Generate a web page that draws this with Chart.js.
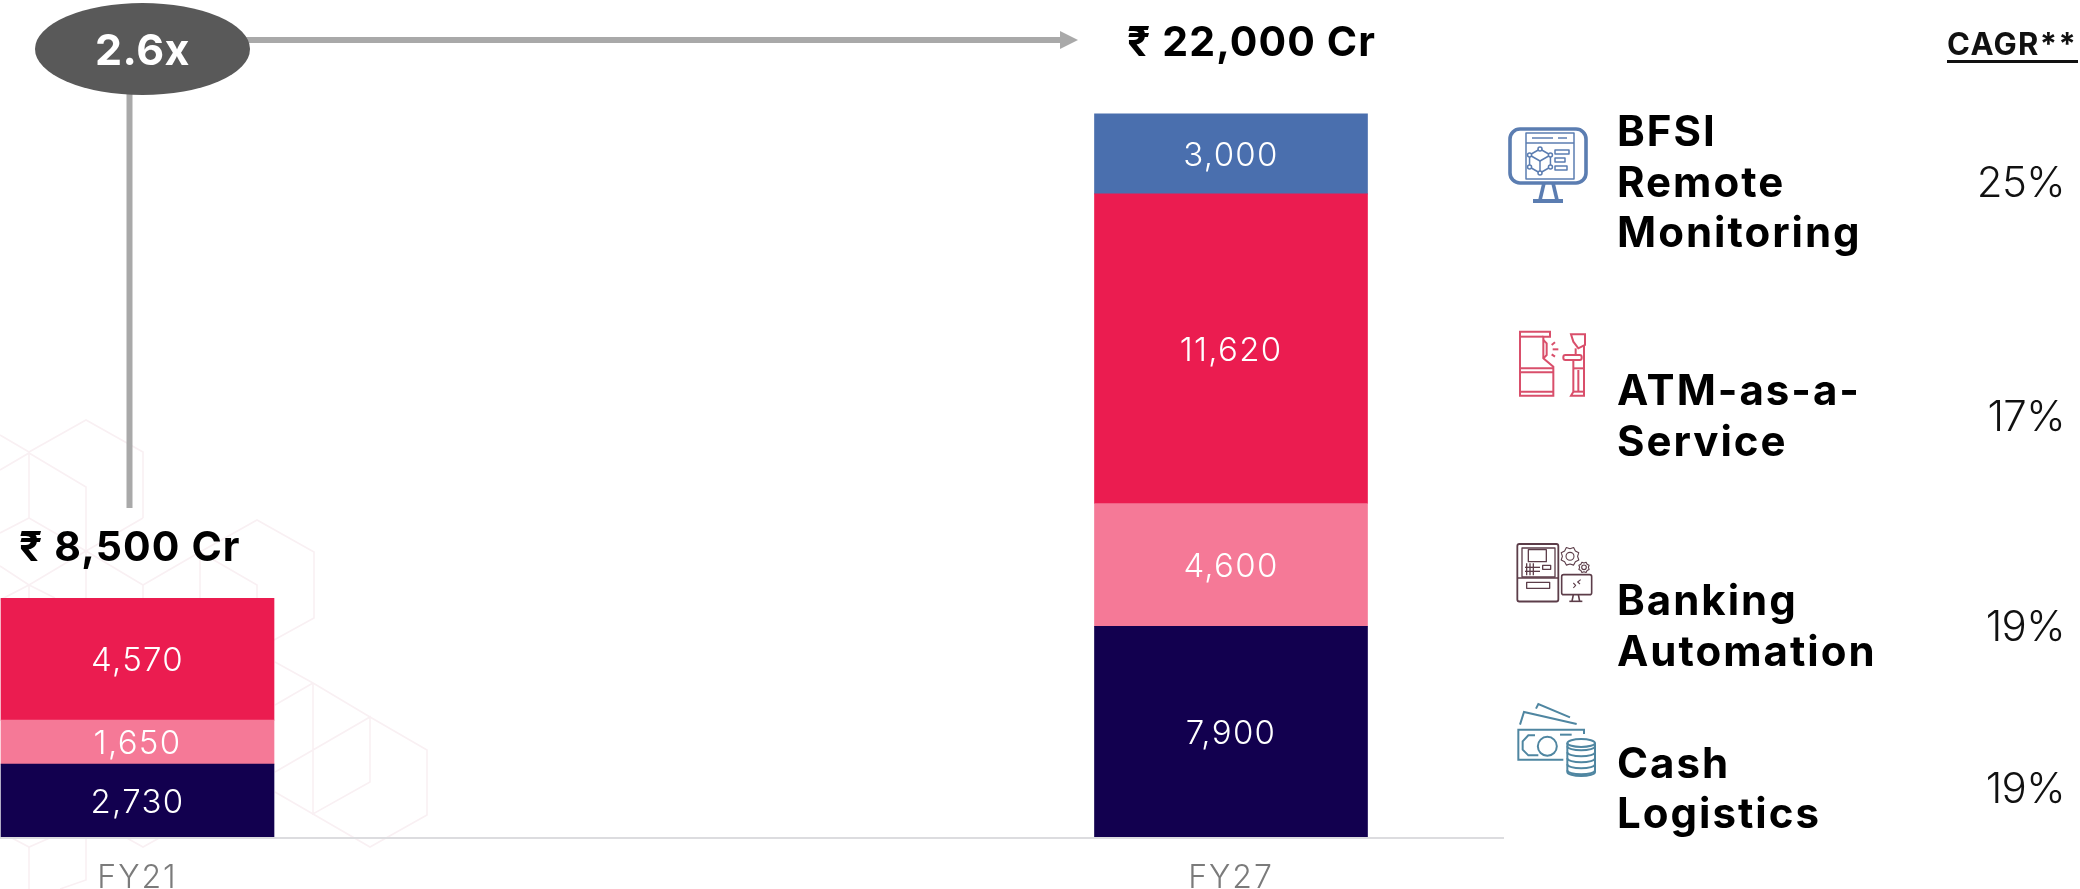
<!DOCTYPE html>
<html><head><meta charset="utf-8">
<style>html,body{margin:0;padding:0;background:#fff;overflow:hidden}canvas{display:block}</style>
<script src="https://cdn.jsdelivr.net/npm/chart.js@4/dist/chart.umd.min.js"></script>
</head><body><canvas id="c" width="2080" height="889"></canvas>
<script>
const categories = ['FY21', 'FY27'];
const cashLogistics = [2730, 7900];
const bankingAutomation = [1650, 4600];
const atmAsAService = [4570, 11620];
const bfsiRemoteMonitoring = [null, 3000];
const totalLabels = ['₹ 8,500 Cr', '₹ 22,000 Cr'];
const growthLabel = '2.6x';
const cagrTitle = 'CAGR**';
const cagrValues = ['25%', '17%', '19%', '19%'];
const segmentNames = [['BFSI', 'Remote', 'Monitoring'], ['ATM-as-a-', 'Service'], ['Banking', 'Automation'], ['Cash', 'Logistics']];

const FONT = 'Inter, "Noto Sans", sans-serif';
const NAVY = '#12004f', PINK = '#f57997', RED = '#eb1c50', BLUE = '#4a6fae', GREY = '#a9a9a9';

function seg(ctx, pts, close) {
  ctx.beginPath();
  pts.forEach((p, i) => i ? ctx.lineTo(p[0], p[1]) : ctx.moveTo(p[0], p[1]));
  if (close) ctx.closePath();
  ctx.stroke();
}
function text(ctx, s, x, y, font, color, align, spacing) {
  ctx.font = font; ctx.fillStyle = color; ctx.textAlign = align || 'left';
  ctx.textBaseline = 'alphabetic'; ctx.letterSpacing = (spacing || 0) + 'px';
  ctx.fillText(s, x, y); ctx.letterSpacing = '0px';
}

// faint hexagon backdrop (decoration only)
const hexLines = [
  [[0,435],[29,452],[86,420],[143,452],[143,518]],[[0,470],[29,453],[29,518],[86,551],[143,518]],
  [[29,453],[86,487],[86,598]],[[0,533],[29,518]],[[0,566],[29,585],[86,551]],[[86,551],[143,585],[143,598]],
  [[143,585],[200,552],[257,520],[314,552],[314,618],[274,640]],[[200,552],[200,598]],[[200,552],[257,585],[257,598]],
  [[29,585],[29,598]],[[0,600],[29,585],[55,598]],
  [[275,662],[313,683],[370,717],[427,750],[427,815],[370,847],[313,814],[275,792]],
  [[313,683],[313,814],[370,782],[370,717],[275,772]],[[313,683],[275,705]],
  [[10,837],[29,847],[52,837]],[[29,847],[29,889]],[[86,837],[86,880],[60,889]],[[125,837],[143,847],[161,837]]
];

function drawMonitor(c) {
  c.strokeStyle = c.fillStyle = '#5b7db1'; c.lineWidth = 3.6; c.lineJoin = 'round'; c.lineCap = 'butt';
  c.beginPath(); c.roundRect(1510, 129, 76, 54, 10); c.stroke();
  seg(c, [[1544,183],[1540,200]]); seg(c, [[1553,183],[1557,200]]);
  c.lineWidth = 4; seg(c, [[1533,201],[1563,201]]);
  c.lineWidth = 1.5;
  c.strokeRect(1526, 133, 48, 46); seg(c, [[1526,143],[1574,143]]);
  seg(c, [[1532,138],[1553,138]]); seg(c, [[1558,138],[1567,138]]);
  const cx = 1540, cy = 161, r = 12;
  const hex = [[0,-r],[r*.87,-r/2],[r*.87,r/2],[0,r],[-r*.87,r/2],[-r*.87,-r/2]].map(p => [cx+p[0], cy+p[1]]);
  seg(c, hex, true); seg(c, [hex[1],[cx,cy],hex[5]]); seg(c, [[cx,cy],hex[3]]);
  hex.forEach(p => { c.beginPath(); c.arc(p[0], p[1], 2, 0, 7); c.fillStyle = '#fff'; c.fill(); c.stroke(); });
  c.strokeRect(1555, 150, 14, 4); c.strokeRect(1555, 158, 10, 4); c.strokeRect(1555, 166, 12, 4);
}
function drawAtm(c) {
  c.strokeStyle = '#d94f6b'; c.lineWidth = 2; c.lineJoin = 'miter'; c.lineCap = 'butt';
  const p = a => a.map(q => [1510+q[0]/3, 325+q[1]/3]);
  seg(c, p([[30,20],[120,20],[120,35],[100,35],[100,100],[130,125],[130,212],[30,212]]), true);
  seg(c, p([[30,35],[100,35]])); seg(c, p([[30,130],[130,130]])); seg(c, p([[30,142],[130,142]])); seg(c, p([[30,200],[130,200]]));
  seg(c, p([[100,45],[110,55],[110,90],[100,100]]));
  seg(c, p([[125,60],[135,52]])); seg(c, p([[128,73],[145,73]])); seg(c, p([[125,88],[135,95]]));
  seg(c, p([[183,28],[225,28],[225,60],[205,70],[190,50]]), true);
  seg(c, p([[222,60],[222,212],[183,212],[190,200],[190,105]]));
  seg(c, p([[197,70],[197,90]])); seg(c, p([[205,135],[205,200]])); seg(c, p([[190,130],[222,130]])); seg(c, p([[190,200],[222,200]]));
  c.beginPath(); c.roundRect(1510+160/3, 325+90/3, 55/3, 15/3, 2); c.stroke();
}
function gear(c, x, y, r, teeth) {
  c.beginPath();
  for (let i = 0; i < teeth * 2; i++) {
    const a = i * Math.PI / teeth, R = i % 2 ? r : r * .8;
    c.lineTo(x + R * Math.cos(a), y + R * Math.sin(a));
  }
  c.closePath(); c.stroke();
  c.beginPath(); c.arc(x, y, r * .42, 0, 7); c.stroke();
}
function drawBanking(c) {
  c.strokeStyle = '#5c3d49'; c.lineJoin = 'round'; c.lineCap = 'butt'; c.lineWidth = 1.8;
  const X = v => 1510 + v/3, Y = v => 538 + v/3;
  c.beginPath(); c.roundRect(X(22), Y(18), 41, 57.5, 2); c.stroke();
  c.lineWidth = 1.3;
  c.strokeRect(X(36), Y(30), 33, 29); c.strokeRect(X(55), Y(35), 18, 12);
  seg(c, [[X(22),Y(120)],[X(145),Y(120)]]);
  seg(c, [[X(50),Y(76)],[X(50),Y(112)]]); seg(c, [[X(60),Y(76)],[X(60),Y(112)]]); seg(c, [[X(70),Y(76)],[X(70),Y(112)]]);
  seg(c, [[X(45),Y(88)],[X(90),Y(88)]]); seg(c, [[X(45),Y(100)],[X(90),Y(100)]]);
  c.strokeRect(X(98), Y(82), 8, 4); c.strokeRect(X(50), Y(133), 23, 6);
  c.lineWidth = 1.1; gear(c, X(180), Y(55), 9.5, 8); gear(c, X(222), Y(88), 5.5, 8);
  c.lineWidth = 1.6;
  c.beginPath(); c.roundRect(X(155), Y(110), 30, 20, 2); c.stroke();
  seg(c, [[X(190),Y(170)],[X(186),Y(190)]]); seg(c, [[X(205),Y(170)],[X(209),Y(190)]]); seg(c, [[X(178),Y(190)],[X(217),Y(190)]]);
  c.lineWidth = 1.1; seg(c, [[X(190),Y(135)],[X(197),Y(142)],[X(190),Y(150)]]); seg(c, [[X(212),Y(125)],[X(203),Y(132)],[X(210),Y(138)]]);
}
function drawCash(c) {
  c.strokeStyle = '#4f86a1'; c.lineWidth = 2; c.lineJoin = 'miter'; c.lineCap = 'butt';
  const p = a => a.map(q => [1510+q[0]/3, 698+q[1]/3]);
  seg(c, p([[78,32],[85,18],[180,58]])); seg(c, p([[30,80],[42,42],[200,78]]));
  seg(c, p([[222,108],[222,95],[25,95],[25,185],[160,185]]));
  seg(c, p([[75,112],[55,112],[38,130],[38,155],[55,172],[85,172]])); seg(c, p([[150,110],[185,110]]));
  c.beginPath(); c.arc(1510+112/3, 698+145/3, 9.5, 0, 7); c.stroke();
  const l = 1510+172/3, r = 1510+255/3, mx = (l+r)/2, rx = (r-l)/2;
  c.fillStyle = '#fff'; c.fillRect(l, 698+125/3, r-l, 36);
  c.beginPath(); c.ellipse(mx, 698+135/3, rx, 4, 0, 0, 7); c.stroke();
  [150,168,186,204,222].forEach(y => { c.beginPath(); c.ellipse(mx, 698+(y-5)/3, rx, 4, 0, 0, Math.PI); c.stroke(); });
  seg(c, [[l,698+135/3],[l,698+222/3]]); seg(c, [[r,698+135/3],[r,698+222/3]]);
  c.beginPath(); c.ellipse(mx, 698+222/3, rx, 4, 0, 0, Math.PI); c.stroke();
}

const backdrop = {
  id: 'backdrop',
  beforeDraw(chart) { chart.ctx.letterSpacing = '2px'; },
  beforeDatasetsDraw(chart) {
    const c = chart.ctx; c.letterSpacing = '0px'; c.save();
    c.strokeStyle = '#f9f0f3'; c.lineWidth = 1.6; c.lineJoin = 'miter'; c.lineCap = 'butt';
    hexLines.forEach(l => seg(c, l));
    c.restore();
  }
};
const overlay = {
  id: 'overlay',
  afterDatasetsDraw(chart) {
    const c = chart.ctx, y = chart.scales.y;
    c.save();
    // baseline
    c.strokeStyle = '#dcdcdf'; c.lineWidth = 2;
    seg(c, [[0, y.getPixelForValue(0) + 1], [1504, y.getPixelForValue(0) + 1]]);
    // segment values
    chart.data.datasets.forEach((ds, i) => {
      chart.getDatasetMeta(i).data.forEach((bar, j) => {
        const v = ds.data[j];
        if (v == null) return;
        text(c, v.toLocaleString('en-US'), bar.x, (bar.y + bar.base) / 2 + 12, '300 33px ' + FONT, '#ffffff', 'center', 1.3);
      });
    });
    // growth connector
    c.strokeStyle = GREY; c.fillStyle = GREY; c.lineWidth = 6;
    seg(c, [[129.5, 90], [129.5, 508]]);
    seg(c, [[245, 40], [1062, 40]]);
    c.beginPath(); c.moveTo(1060, 31); c.lineTo(1078, 40); c.lineTo(1060, 49); c.closePath(); c.fill();
    c.fillStyle = '#595959';
    c.beginPath(); c.ellipse(142.5, 49, 107.5, 46, 0, 0, 7); c.fill();
    text(c, growthLabel, 142.5, 65, '700 43px ' + FONT, '#ffffff', 'center', 0.5);
    // totals
    text(c, totalLabels[0], 19, 561, '700 41px ' + FONT, '#000000', 'left', 1.1);
    text(c, totalLabels[1], 1127, 56, '700 41px ' + FONT, '#000000', 'left', 1.1);
    // right panel
    text(c, cagrTitle, 1947, 55, '700 31px ' + FONT, '#111111', 'left', 1.3);
    c.strokeStyle = '#111'; c.lineWidth = 3; seg(c, [[1947, 61.5], [2078, 61.5]]);
    const baselines = [[146, 197, 247], [405, 456], [615, 666], [778, 828]];
    const pctY = [197, 431, 641, 803];
    segmentNames.forEach((lines, i) => {
      lines.forEach((s, k) => text(c, s, 1617, baselines[i][k], '700 42px ' + FONT, '#000000', 'left', 2));
      text(c, cagrValues[i], 2065, pctY[i], '300 42px ' + FONT, '#111111', 'right', -0.6);
    });
    drawMonitor(c); drawAtm(c); drawBanking(c); drawCash(c);
    c.restore();
  }
};

new Chart(document.getElementById('c'), {
  type: 'bar',
  data: {
    labels: categories,
    datasets: [
      { label: 'Cash Logistics', data: cashLogistics, backgroundColor: NAVY },
      { label: 'Banking Automation', data: bankingAutomation, backgroundColor: PINK },
      { label: 'ATM-as-a-Service', data: atmAsAService, backgroundColor: RED },
      { label: 'BFSI Remote Monitoring', data: bfsiRemoteMonitoring, backgroundColor: BLUE }
    ]
  },
  options: {
    responsive: false, animation: false,
    layout: { padding: { left: 137.5, right: 849, top: 37, bottom: 0 } },
    datasets: { bar: { barThickness: 273, clip: false, borderWidth: 0 } },
    plugins: { legend: { display: false }, tooltip: { enabled: false }, title: { display: false } },
    scales: {
      x: {
        stacked: true, offset: false,
        grid: { display: false, drawTicks: false }, border: { display: false },
        ticks: { color: '#7b7b7b', font: { family: FONT, size: 32, weight: 300 }, padding: 22, maxRotation: 0, autoSkip: false },
        afterFit(s) { s.height = 52; }
      },
      y: { stacked: true, min: 0, max: 30000, display: false }
    }
  },
  plugins: [backdrop, overlay]
});
</script></body></html>
